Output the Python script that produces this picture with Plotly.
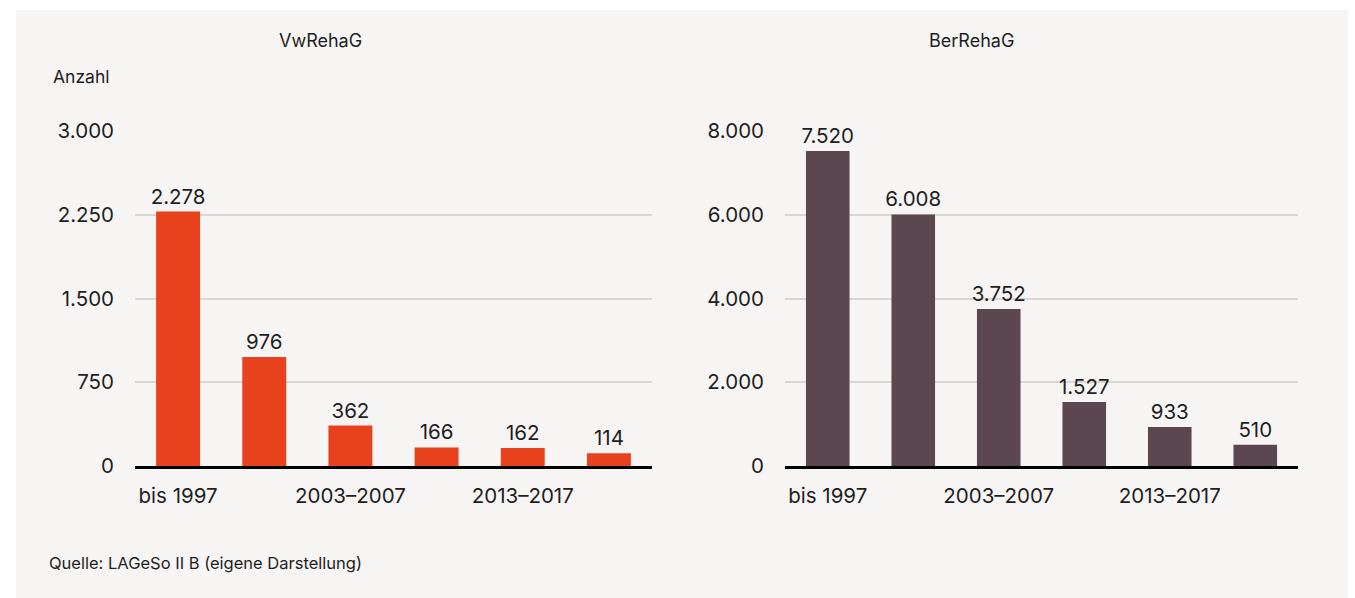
import plotly.graph_objects as go
from plotly.subplots import make_subplots

categories = ["bis 1997", "1998–2002", "2003–2007", "2008–2012", "2013–2017", "seit 2018"]
tick_labels = ["bis 1997", "2003–2007", "2013–2017"]
vwrehag = [2278, 976, 362, 166, 162, 114]
berrehag = [7520, 6008, 3752, 1527, 933, 510]
titles = ["VwRehaG", "BerRehaG"]
y_ticks_left = [0, 750, 1500, 2250, 3000]
y_ticks_right = [0, 2000, 4000, 6000, 8000]

FONT = "Inter"
TXT = "#1e1e1e"
NUM_SIZE = 20.5

fig = make_subplots(rows=1, cols=2)
fig.add_trace(go.Bar(x=categories, y=vwrehag, marker_color="#e8411e", marker_line_width=0,
                     width=0.51, texttemplate="%{y:,}", textposition="outside",
                     constraintext="none",
                     textfont=dict(size=NUM_SIZE, color=TXT, family=FONT), cliponaxis=False,
                     hoverinfo="x+y"), row=1, col=1)
fig.add_trace(go.Bar(x=categories, y=berrehag, marker_color="#5c4750", marker_line_width=0,
                     width=0.51, texttemplate="%{y:,}", textposition="outside",
                     constraintext="none",
                     textfont=dict(size=NUM_SIZE, color=TXT, family=FONT), cliponaxis=False,
                     hoverinfo="x+y"), row=1, col=2)

W, H = 1355, 598
L, R, T, B = 135, 57, 131, 132
pw = W - L - R
ph = H - T - B

def px_x(x):
    return (x - L) / pw

def px_y(y):
    return (H - B - y) / ph

common_x = dict(type="category", range=[-0.5, 5.5], tickvals=[categories[0], categories[2], categories[4]],
                ticktext=tick_labels, showgrid=False, showline=True, linecolor="#000", linewidth=3,
                ticks="", ticklabelstandoff=9, tickfont=dict(size=NUM_SIZE, color=TXT, family=FONT),
                zeroline=False, fixedrange=True)
fig.update_xaxes(**common_x, domain=[0, px_x(652)], row=1, col=1)
fig.update_xaxes(**common_x, domain=[px_x(785), 1], row=1, col=2)

common_y = dict(showgrid=True, gridcolor="#d9d7d4", gridwidth=2, zeroline=False, showline=False,
                ticks="", tickformat=",d", ticklabelstandoff=20,
                tickfont=dict(size=NUM_SIZE, color=TXT, family=FONT), fixedrange=True)
fig.update_yaxes(**common_y, range=[0, 3000], tickvals=y_ticks_left, domain=[0, 1], row=1, col=1)
fig.update_yaxes(**common_y, range=[0, 8000], tickvals=y_ticks_right, domain=[0, 1], row=1, col=2)

annotations = [
    dict(text=titles[0], x=px_x(320), y=px_y(41), xref="paper", yref="paper", showarrow=False,
         xanchor="center", yanchor="middle", font=dict(size=18, color=TXT, family=FONT)),
    dict(text=titles[1], x=px_x(971), y=px_y(41), xref="paper", yref="paper", showarrow=False,
         xanchor="center", yanchor="middle", font=dict(size=18, color=TXT, family=FONT)),
    dict(text="Anzahl", x=px_x(51), y=px_y(77), xref="paper", yref="paper", showarrow=False,
         xanchor="left", yanchor="middle", font=dict(size=17.5, color=TXT, family=FONT)),
    dict(text="Quelle: LAGeSo II B (eigene Darstellung)", x=px_x(47), y=px_y(563), xref="paper",
         yref="paper", showarrow=False, xanchor="left", yanchor="middle",
         font=dict(size=16.5, color=TXT, family=FONT)),
]

fig.update_layout(
    width=W, height=H, margin=dict(l=L, r=R, t=T, b=B),
    paper_bgcolor="#ffffff", plot_bgcolor="rgba(0,0,0,0)",
    separators=",.", showlegend=False, bargap=0.49,
    annotations=annotations,
    shapes=[dict(type="rect", xref="paper", yref="paper", layer="below",
                 x0=px_x(16), x1=px_x(1348), y0=px_y(598), y1=px_y(10),
                 fillcolor="#f6f5f3", line_width=0)],
    font=dict(family=FONT, color=TXT),
)

fig.write_html("out.html", config={"displayModeBar": False},
               post_script="document.body.style.margin='0';")
